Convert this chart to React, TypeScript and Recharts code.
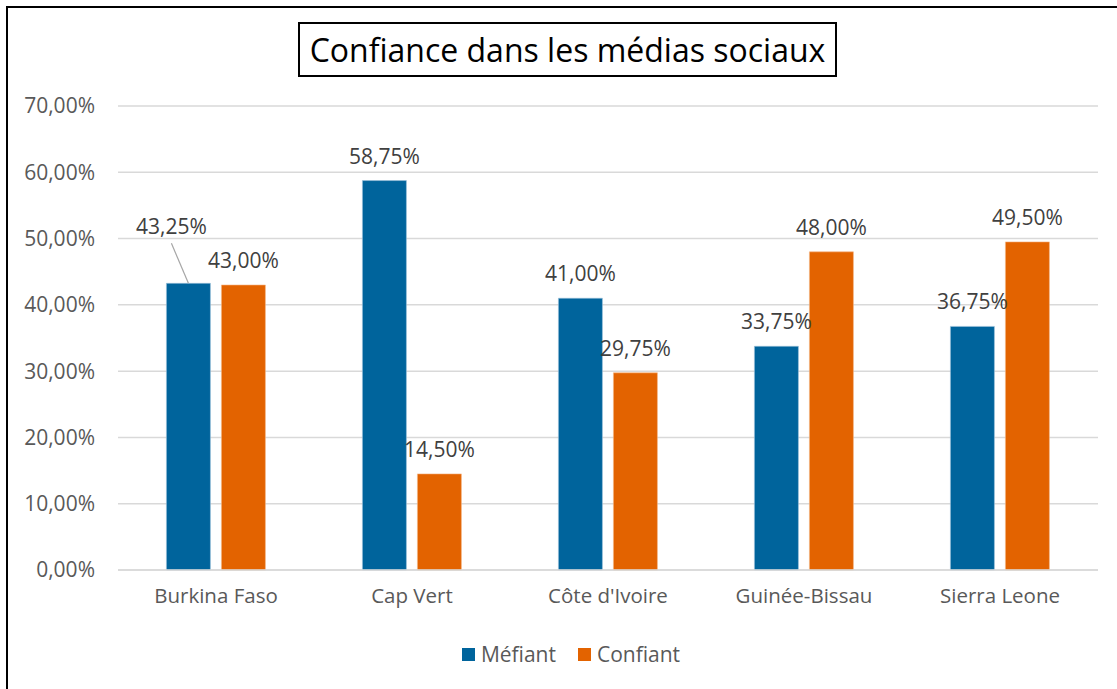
import React from 'react'
import { BarChart, Bar, XAxis, YAxis, CartesianGrid, Legend, LabelList } from 'recharts'

const countries = ['Burkina Faso', 'Cap Vert', "Côte d'Ivoire", 'Guinée-Bissau', 'Sierra Leone']
const mefiant = [43.25, 58.75, 41.0, 33.75, 36.75]
const confiant = [43.0, 14.5, 29.75, 48.0, 49.5]
const yTicks = [0, 10, 20, 30, 40, 50, 60, 70]

const BLUE = '#00649C'
const ORANGE = '#E36300'
const FONT = '"Open Sans", Lato, sans-serif'
const FS = 21

const data = countries.map((name, i) => ({ name, mefiant: mefiant[i], confiant: confiant[i] }))

const fmt = (v: number) => v.toFixed(2).replace('.', ',') + '%'

// the first Méfiant label was dragged up-left in the original, with a leader line
const makeLabel = (moved: number | null) => (props: any) => {
  const { x, y, width, value, index } = props
  const cx = Number(x) + Number(width) / 2
  const top = Number(y)
  if (index === moved) {
    return (
      <g>
        <line x1={cx - 17} y1={top - 40} x2={cx} y2={top} stroke="#A6A6A6" strokeWidth={1.2} />
        <text x={cx - 17} y={top - 57} textAnchor="middle" dominantBaseline="central" fill="#404040" fontSize={FS} fontFamily={FONT}>
          {fmt(value)}
        </text>
      </g>
    )
  }
  return (
    <text x={cx} y={top - 25} textAnchor="middle" dominantBaseline="central" fill="#404040" fontSize={FS} fontFamily={FONT}>
      {fmt(value)}
    </text>
  )
}

const renderLegend = () => (
  <div style={{ height: 49, boxSizing: 'border-box', paddingTop: 12, paddingLeft: 44, display: 'flex', justifyContent: 'center', fontFamily: FONT, fontSize: FS, color: '#595959' }}>
    {[['Méfiant', BLUE], ['Confiant', ORANGE]].map(([label, color]) => (
      <div key={label} style={{ display: 'flex', alignItems: 'center', margin: '0 11px', height: 24 }}>
        <span style={{ width: 13, height: 13, background: color, display: 'inline-block', marginRight: 6 }} />
        <span>{label}</span>
      </div>
    ))}
  </div>
)

export default function App() {
  return (
    <div style={{ position: 'absolute', left: 0, top: 0, width: 1117, height: 689, overflow: 'hidden', background: '#fff', fontFamily: FONT }}>
      <div style={{ position: 'absolute', left: 6, top: 6, width: 1200, height: 800, borderLeft: '2px solid #000', borderTop: '2px solid #000' }} />
      <div
        style={{
          position: 'absolute', left: 298, top: 22, width: 539, height: 55, boxSizing: 'border-box',
          border: '2px solid #000', display: 'flex', alignItems: 'center', justifyContent: 'center',
          fontSize: 32, color: '#000', zIndex: 2, whiteSpace: 'nowrap'
        }}
      >
        Confiance dans les médias sociaux
      </div>
      <BarChart
        width={1117}
        height={689}
        data={data}
        margin={{ top: 106, right: 19, left: 0, bottom: 10 }}
        barCategoryGap="24.7%"
        barGap={11}
      >
        <CartesianGrid vertical={false} stroke="#D9D9D9" strokeWidth={1.5} />
        <XAxis
          dataKey="name"
          height={60}
          axisLine={{ stroke: '#D9D9D9', strokeWidth: 1.5 }}
          tickLine={false}
          tickSize={0}
          tickMargin={18}
          tick={{ fill: '#595959', fontSize: FS - 0.5, fontFamily: FONT }}
        />
        <YAxis
          width={118}
          domain={[0, 70]}
          ticks={yTicks}
          interval={0}
          axisLine={false}
          tickLine={false}
          tickSize={0}
          tickMargin={23}
          tickFormatter={fmt}
          tick={{ fill: '#595959', fontSize: FS, fontFamily: FONT }}
        />
        <Legend verticalAlign="bottom" content={renderLegend} />
        <Bar dataKey="mefiant" name="Méfiant" fill={BLUE} stroke="#9EC3DB" strokeWidth={0.6} isAnimationActive={false}>
          <LabelList dataKey="mefiant" content={makeLabel(0)} />
        </Bar>
        <Bar dataKey="confiant" name="Confiant" fill={ORANGE} stroke="#F5B88A" strokeWidth={0.6} isAnimationActive={false}>
          <LabelList dataKey="confiant" content={makeLabel(null)} />
        </Bar>
      </BarChart>
    </div>
  )
}
